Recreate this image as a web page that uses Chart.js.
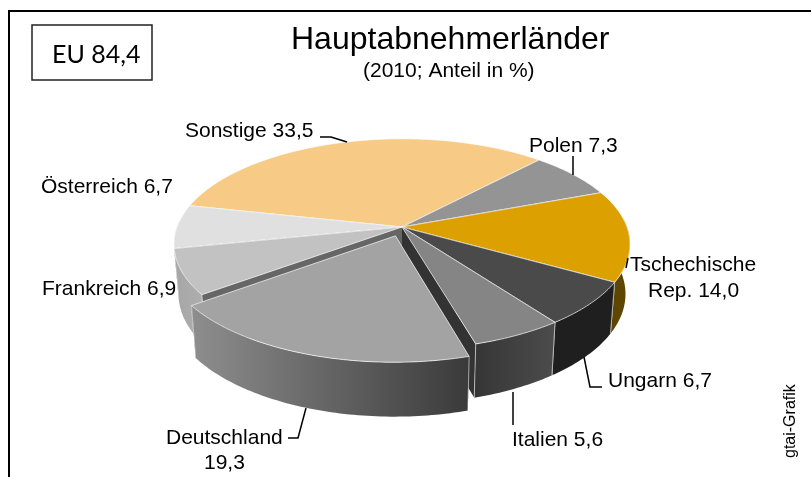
<!DOCTYPE html>
<html>
<head>
<meta charset="utf-8">
<style>html,body{margin:0;padding:0;background:#fff}canvas{display:block}</style>
<script src="https://cdn.jsdelivr.net/npm/chart.js@4"></script>
</head>
<body>
<canvas id="c" width="811" height="477"></canvas>
<script>
// Data
const categories = ["Polen","Tschechische Rep.","Ungarn","Italien","Deutschland","Frankreich","Österreich","Sonstige"];
const shares = [7.3,14.0,6.7,5.6,19.3,6.9,6.7,33.5];
const chartTitle = "Hauptabnehmerländer";
const chartSubtitle = "(2010; Anteil in %)";
const euBox = "EU 84,4";
const source = "gtai-Grafik";

// Styles
const topColors  = ["#949494","#DCA000","#4A4A4A","#858585","#A3A3A3","#C2C2C2","#E0E0E0","#F7CB85"];
const wallLeft   = ["#777777","#5E4600","#1F1F1F","#363636","#8E8E8E","#A6A6A6","#B4B4B4","#C8A060"];
const wallRight  = ["#777777","#5E4600","#1F1F1F","#4C4C4C","#3A3A3A","#AEAEAE","#B4B4B4","#C8A060"];
const sideColors = ["#666666","#4A3800","#222222","#333333","#333333","#666666","#999999","#B08850"];
const explodePx  = [0,0,0,0,19,0,0,0];
const paintOrder = [7,0,6,1,5,2,3,4];
const ROTATION = 43, R_SCREEN = 225, TILT = 102.6, PERSP = 0.163;
const FONT = '21px "Liberation Sans", Arial, sans-serif';

const labelPlacement = [
  {lines:["Polen 7,3"], x:529, y:152},
  {lines:["Tschechische","Rep. 14,0"], x:[630,648], y:[271,297]},
  {lines:["Ungarn 6,7"], x:608, y:387},
  {lines:["Italien 5,6"], x:512, y:446},
  {lines:["Deutschland","19,3"], x:[166,204], y:[444,469]},
  {lines:["Frankreich 6,9"], x:42, y:295},
  {lines:["Österreich 6,7"], x:41, y:193},
  {lines:["Sonstige 33,5"], x:185, y:137}
];
const leaders = [
  [[320,137],[331,137],[347,142]],
  [[573,156],[573,175]],
  [[628,258],[626,268]],
  [[584,357],[590,387],[602,387]],
  [[513,392],[513,425]],
  [[306,408],[298,438],[288,438]]
];

function projector(arc, ox, oy) {
  return function (t) {
    const X = Math.sin(t) + ox, Y = -Math.cos(t) + oy;
    return projectXY(arc, X, Y);
  };
}
function projectXY(arc, X, Y) {
  const s = 1 / (1 - PERSP * Y);
  return {x: arc.x + R_SCREEN * X * s, y: arc.y + TILT * Y * s, Y};
}
function lower(arc, p) {
  return {x: arc.x + 0.98 * (p.x - arc.x), y: p.y + 49 + 5 * p.Y};
}
function poly(ctx, pts) {
  ctx.beginPath();
  pts.forEach((p, i) => i ? ctx.lineTo(p.x, p.y) : ctx.moveTo(p.x, p.y));
  ctx.closePath();
}

const pie3d = {
  id: "pie3d",
  beforeDatasetsDraw(chart) {
    const ctx = chart.ctx;
    const arcs = chart.getDatasetMeta(0).data;
    ctx.save();
    ctx.lineJoin = "round";
    paintOrder.forEach(i => {
      const arc = arcs[i];
      const t0 = arc.startAngle + Math.PI / 2, t1 = arc.endAngle + Math.PI / 2;
      const mid = (t0 + t1) / 2;
      const d = explodePx[i] / 212;
      const ox = d * Math.sin(mid), oy = -d * Math.cos(mid);
      const P = projector(arc, ox, oy);
      const apex = projectXY(arc, ox, oy);
      const rim = [];
      const n = Math.ceil((t1 - t0) / (Math.PI / 180));
      for (let k = 0; k <= n; k++) rim.push(t0 + (t1 - t0) * k / n);

      // radial cut faces
      [t0, t1].forEach(t => {
        const a = P(t);
        poly(ctx, [apex, a, lower(arc, a), lower(arc, apex)]);
        ctx.fillStyle = sideColors[i];
        ctx.fill();
      });

      // outer wall (front half only)
      const lo = Math.PI * 85 / 180, hi = Math.PI * 275 / 180;
      const front = rim.filter(t => t >= lo && t <= hi).map(P);
      if (front.length > 1) {
        const wall = front.concat(front.map(p => lower(arc, p)).reverse());
        const xs = front.map(p => p.x);
        const g = ctx.createLinearGradient(Math.min(...xs), 0, Math.max(...xs), 0);
        g.addColorStop(0, wallLeft[i]);
        g.addColorStop(1, wallRight[i]);
        poly(ctx, wall);
        ctx.fillStyle = g;
        ctx.fill();
        ctx.strokeStyle = "rgba(255,255,255,0.55)";
        ctx.lineWidth = 1;
        [front[0], front[front.length - 1]].forEach(p => {
          const b = lower(arc, p);
          ctx.beginPath(); ctx.moveTo(p.x, p.y); ctx.lineTo(b.x, b.y); ctx.stroke();
        });
      }

      // top face
      poly(ctx, [apex].concat(rim.map(P)));
      ctx.fillStyle = topColors[i];
      ctx.fill();
      ctx.strokeStyle = "rgba(255,255,255,0.7)";
      ctx.lineWidth = 1;
      ctx.stroke();
    });
    ctx.restore();
    return false;
  },
  afterDraw(chart) {
    const ctx = chart.ctx;
    ctx.save();
    // frame (open at right and bottom)
    ctx.strokeStyle = "#000";
    ctx.lineWidth = 2;
    ctx.beginPath();
    ctx.moveTo(9, 477); ctx.lineTo(9, 11); ctx.lineTo(811, 11);
    ctx.stroke();

    // EU box
    ctx.strokeStyle = "#222";
    ctx.lineWidth = 1.5;
    ctx.strokeRect(32, 25, 120, 55);
    ctx.fillStyle = "#000";
    ctx.textBaseline = "alphabetic";
    ctx.textAlign = "left";
    ctx.font = '25px Lato, sans-serif';
    ctx.fillText(euBox, 52, 63);

    // titles
    ctx.font = '32px "Liberation Sans", Arial, sans-serif';
    ctx.fillText(chartTitle, 291, 49);
    ctx.font = '21px "Liberation Sans", Arial, sans-serif';
    ctx.fillText(chartSubtitle, 363, 77);

    // leader lines
    ctx.strokeStyle = "#000";
    ctx.lineWidth = 1.5;
    leaders.forEach(l => {
      ctx.beginPath();
      l.forEach((p, i) => i ? ctx.lineTo(p[0], p[1]) : ctx.moveTo(p[0], p[1]));
      ctx.stroke();
    });

    // category labels
    ctx.font = FONT;
    labelPlacement.forEach(l => {
      l.lines.forEach((s, i) => {
        const x = Array.isArray(l.x) ? l.x[i] : l.x;
        const y = Array.isArray(l.y) ? l.y[i] : l.y;
        ctx.fillText(s, x, y);
      });
    });

    // source
    ctx.save();
    ctx.translate(795, 458);
    ctx.rotate(-Math.PI / 2);
    ctx.font = '16px "Liberation Sans", Arial, sans-serif';
    ctx.fillText(source, 0, 0);
    ctx.restore();
    ctx.restore();
  }
};

new Chart(document.getElementById("c"), {
  type: "pie",
  data: {
    labels: categories,
    datasets: [{ data: shares, backgroundColor: topColors, borderWidth: 0 }]
  },
  options: {
    responsive: false,
    animation: false,
    rotation: ROTATION,
    layout: { padding: { left: 175, right: 182, top: 0, bottom: 23 } },
    plugins: { legend: { display: false }, tooltip: { enabled: false } }
  },
  plugins: [pie3d, { id: "bg", beforeDraw(c) { c.ctx.save(); c.ctx.fillStyle = "#fff"; c.ctx.fillRect(0, 0, c.width, c.height); c.ctx.restore(); } }]
});
</script>
</body>
</html>
